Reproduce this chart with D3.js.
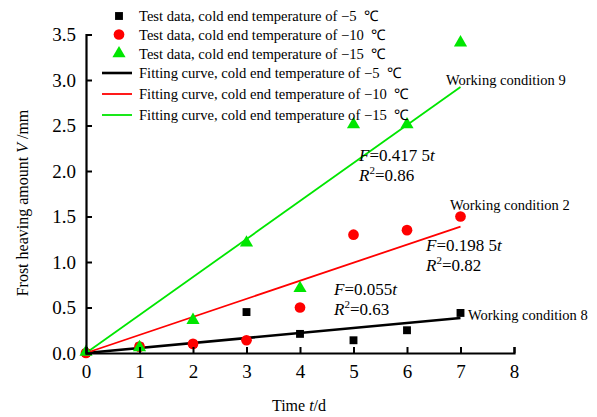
<!DOCTYPE html>
<html>
<head>
<meta charset="utf-8">
<script src="https://cdn.jsdelivr.net/npm/d3@7"></script>
<style>
  html, body { margin: 0; padding: 0; background: #fff; }
  svg { display: block; font-family: "Liberation Serif", "Times New Roman", serif; }
</style>
</head>
<body>
<svg id="chart" width="597" height="417"></svg>
<script>
// Frost heave test data (days vs. heave in mm) for three cold-end temperatures
const days = [0, 1, 2, 3, 4, 5, 6, 7];
const heaveMinus5 = [0, 0.07, 0.10, 0.45, 0.21, 0.14, 0.25, 0.44];
const heaveMinus10 = [0, 0.07, 0.10, 0.14, 0.50, 1.30, 1.35, 1.50];
const heaveMinus15 = [0, 0.05, 0.35, 1.20, 0.70, 2.50, 2.50, 3.40];

// Linear fits through the origin, F = k t
const fitSlopes = [0.055, 0.1985, 0.4175];
const fitRange = [0, 7];

const xTicks = [0, 1, 2, 3, 4, 5, 6, 7, 8];
const yTicks = [0, 0.5, 1.0, 1.5, 2.0, 2.5, 3.0, 3.5];

const legendLabels = [
  "Test data, cold end temperature of \u22125\u2002\u2103",
  "Test data, cold end temperature of \u221210\u2002\u2103",
  "Test data, cold end temperature of \u221215\u2002\u2103",
  "Fitting curve, cold end temperature of \u22125\u2002\u2103",
  "Fitting curve, cold end temperature of \u221210\u2002\u2103",
  "Fitting curve, cold end temperature of \u221215\u2002\u2103"
];

const colors = ["#000000", "#ff0000", "#00e600"];

const svg = d3.select("#chart");
const x = d3.scaleLinear().domain([0, 8]).range([86, 514]);
const y = d3.scaleLinear().domain([0, 3.5]).range([353, 34.5]);

// Fitting lines
const line = d3.line().x(d => x(d[0])).y(d => y(d[1]));
fitSlopes.forEach((k, i) => {
  svg.append("path")
    .datum(fitRange.map(t => [t, k * t]))
    .attr("d", line)
    .attr("fill", "none")
    .attr("stroke", colors[i])
    .attr("stroke-width", i === 0 ? 2.6 : 1.8);
});

// Markers
const sq = d3.symbol().type(d3.symbolSquare).size(62);
const ci = d3.symbol().type(d3.symbolCircle).size(90);
const tr = d3.symbol().type(d3.symbolTriangle).size(75);
const seriesList = [heaveMinus5, heaveMinus10, heaveMinus15];
const shapes = [sq, ci, tr];
seriesList.forEach((vals, i) => {
  svg.append("g").selectAll("path")
    .data(vals.map((v, j) => [days[j], v]))
    .join("path")
    .attr("d", shapes[i])
    .attr("transform", d => `translate(${x(d[0])},${y(d[1]) - (i === 2 ? 1 : 0)})`)
    .attr("fill", colors[i]);
});

// Axes with inward ticks
const xAxis = svg.append("g")
  .attr("transform", `translate(0,${y(0)})`)
  .call(d3.axisBottom(x).tickValues(xTicks).tickSizeInner(-6).tickSizeOuter(-6).tickPadding(12).tickFormat(d3.format("d")));
const yAxis = svg.append("g")
  .attr("transform", `translate(${x(0)},0)`)
  .call(d3.axisLeft(y).tickValues(yTicks).tickSizeInner(-6).tickSizeOuter(-6).tickPadding(10).tickFormat(d3.format(".1f")));
[xAxis, yAxis].forEach(a => {
  a.select(".domain").attr("stroke", "#000").attr("stroke-width", 2.2);
  a.selectAll(".tick line").attr("stroke", "#000").attr("stroke-width", 2);
  a.selectAll(".tick text").attr("font-size", 19).attr("fill", "#000")
    .attr("font-family", "Liberation Serif, serif");
});
xAxis.selectAll(".tick text").attr("dy", "0.71em");

// Axis titles
const xt = svg.append("text").attr("x", 299).attr("y", 411)
  .attr("text-anchor", "middle").attr("font-size", 16);
xt.append("tspan").text("Time ");
xt.append("tspan").attr("font-style", "italic").text("t");
xt.append("tspan").text("/d");

const yt = svg.append("text")
  .attr("transform", "translate(28,203) rotate(-90)")
  .attr("text-anchor", "middle").attr("font-size", 16);
yt.append("tspan").text("Frost heaving amount ");
yt.append("tspan").attr("font-style", "italic").text("V");
yt.append("tspan").text(" /mm");

// Legend
const legendY = [16, 34.5, 53.5, 73, 94, 115];
const lg = svg.append("g");
legendLabels.forEach((label, i) => {
  if (i < 3) {
    lg.append("path").attr("d", shapes[i])
      .attr("transform", `translate(119,${legendY[i]})`)
      .attr("fill", colors[i]);
  } else {
    lg.append("line").attr("x1", 102).attr("x2", 132)
      .attr("y1", legendY[i]).attr("y2", legendY[i])
      .attr("stroke", colors[i - 3]).attr("stroke-width", i === 3 ? 2.6 : 1.8);
  }
  lg.append("text").attr("x", 139).attr("y", legendY[i] + 5)
    .attr("font-size", 14.6).text(label);
});

// Annotations
function note(tx, ty, text, size) {
  svg.append("text").attr("x", tx).attr("y", ty).attr("font-size", size || 14.5).text(text);
}
note(446, 85, "Working condition 9");
note(450, 210, "Working condition 2");
note(468, 320, "Working condition 8");

function equation(tx, ty, k, r2) {
  const e = svg.append("text").attr("x", tx).attr("y", ty).attr("font-size", 17);
  e.append("tspan").attr("font-style", "italic").text("F");
  e.append("tspan").text("=" + k);
  e.append("tspan").attr("font-style", "italic").text("t");
  const r = svg.append("text").attr("x", tx).attr("y", ty + 20).attr("font-size", 17);
  r.append("tspan").attr("font-style", "italic").text("R");
  r.append("tspan").attr("font-size", 11).attr("dy", -7).text("2");
  r.append("tspan").attr("dy", 7).text("=" + r2);
}
equation(359, 161, "0.417 5", "0.86");
equation(426, 251, "0.198 5", "0.82");
equation(334, 295, "0.055", "0.63");
</script>
</body>
</html>
